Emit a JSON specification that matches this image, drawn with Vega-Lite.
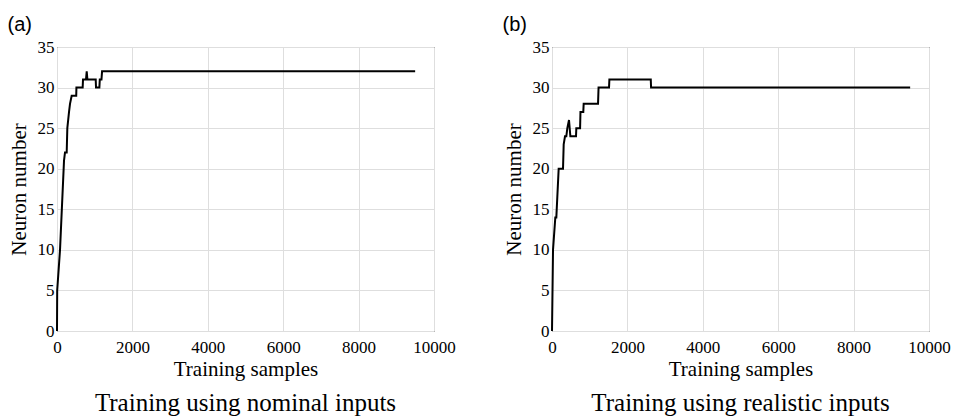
{
  "$schema": "https://vega.github.io/schema/vega-lite/v6.json",
  "padding": {"left": 7, "top": 14, "right": 0, "bottom": 0},
  "background": "white",
  "datasets": {
    "a": [
      {"x": 0, "y": 0}, {"x": 5, "y": 5}, {"x": 80, "y": 10}, {"x": 186, "y": 21}, {"x": 212, "y": 22},
      {"x": 257, "y": 22}, {"x": 274, "y": 25}, {"x": 319, "y": 27}, {"x": 345, "y": 28}, {"x": 389, "y": 29},
      {"x": 510, "y": 29}, {"x": 515, "y": 30}, {"x": 681, "y": 30}, {"x": 690, "y": 31}, {"x": 770, "y": 31},
      {"x": 788, "y": 32}, {"x": 806, "y": 31}, {"x": 1027, "y": 31}, {"x": 1035, "y": 30}, {"x": 1124, "y": 30},
      {"x": 1135, "y": 31}, {"x": 1180, "y": 31}, {"x": 1195, "y": 32}, {"x": 9500, "y": 32}
    ],
    "b": [
      {"x": 0, "y": 0}, {"x": 27, "y": 10}, {"x": 88, "y": 14}, {"x": 115, "y": 14}, {"x": 177, "y": 20},
      {"x": 292, "y": 20}, {"x": 310, "y": 23}, {"x": 345, "y": 24}, {"x": 380, "y": 24}, {"x": 407, "y": 25},
      {"x": 451, "y": 26}, {"x": 487, "y": 24}, {"x": 637, "y": 24}, {"x": 645, "y": 25}, {"x": 745, "y": 25},
      {"x": 755, "y": 27}, {"x": 830, "y": 27}, {"x": 840, "y": 28}, {"x": 1221, "y": 28}, {"x": 1235, "y": 30},
      {"x": 1513, "y": 30}, {"x": 1522, "y": 31}, {"x": 2620, "y": 31}, {"x": 2628, "y": 30}, {"x": 9500, "y": 30}
    ]
  },
  "config": {
    "view": {"stroke": "black", "strokeWidth": 1},
    "axis": {
      "grid": true, "gridColor": "#dedede", "gridWidth": 1, "domain": false,
      "ticks": false, "labelFlush": false,
      "labelFont": "Liberation Serif", "labelFontSize": 17, "labelColor": "black",
      "titleFont": "Liberation Serif", "titleFontSize": 21, "titleFontWeight": "normal", "titleColor": "black"
    },
    "axisX": {"labelPadding": 8, "titlePadding": 3},
    "axisY": {"labelPadding": 3, "titlePadding": 8}
  },
  "spacing": 46,
  "hconcat": [
    {
      "title": {"text": "(a)", "anchor": "start", "font": "Liberation Sans", "fontSize": 20, "fontWeight": "normal", "color": "black", "offset": 3},
      "vconcat": [
        {
          "width": 377, "height": 284,
          "title": {"text": "Training using nominal inputs", "orient": "bottom", "frame": "group", "anchor": "middle", "font": "Liberation Serif", "fontSize": 25, "fontWeight": "normal", "color": "black", "offset": 12},
          "data": {"name": "a"},
          "mark": {"type": "line", "color": "black", "strokeWidth": 2},
          "encoding": {
            "x": {"field": "x", "type": "quantitative", "scale": {"domain": [0, 10000], "nice": false},
                  "axis": {"values": [0, 2000, 4000, 6000, 8000, 10000], "format": "d", "title": "Training samples"}},
            "y": {"field": "y", "type": "quantitative", "scale": {"domain": [0, 35], "nice": false},
                  "axis": {"values": [0, 5, 10, 15, 20, 25, 30, 35], "format": "d", "title": "Neuron number"}}
          }
        }
      ]
    },
    {
      "title": {"text": "(b)", "anchor": "start", "font": "Liberation Sans", "fontSize": 20, "fontWeight": "normal", "color": "black", "offset": 3},
      "vconcat": [
        {
          "width": 377, "height": 284,
          "title": {"text": "Training using realistic inputs", "orient": "bottom", "frame": "group", "anchor": "middle", "font": "Liberation Serif", "fontSize": 25, "fontWeight": "normal", "color": "black", "offset": 12},
          "data": {"name": "b"},
          "mark": {"type": "line", "color": "black", "strokeWidth": 2},
          "encoding": {
            "x": {"field": "x", "type": "quantitative", "scale": {"domain": [0, 10000], "nice": false},
                  "axis": {"values": [0, 2000, 4000, 6000, 8000, 10000], "format": "d", "title": "Training samples"}},
            "y": {"field": "y", "type": "quantitative", "scale": {"domain": [0, 35], "nice": false},
                  "axis": {"values": [0, 5, 10, 15, 20, 25, 30, 35], "format": "d", "title": "Neuron number"}}
          }
        }
      ]
    }
  ]
}
